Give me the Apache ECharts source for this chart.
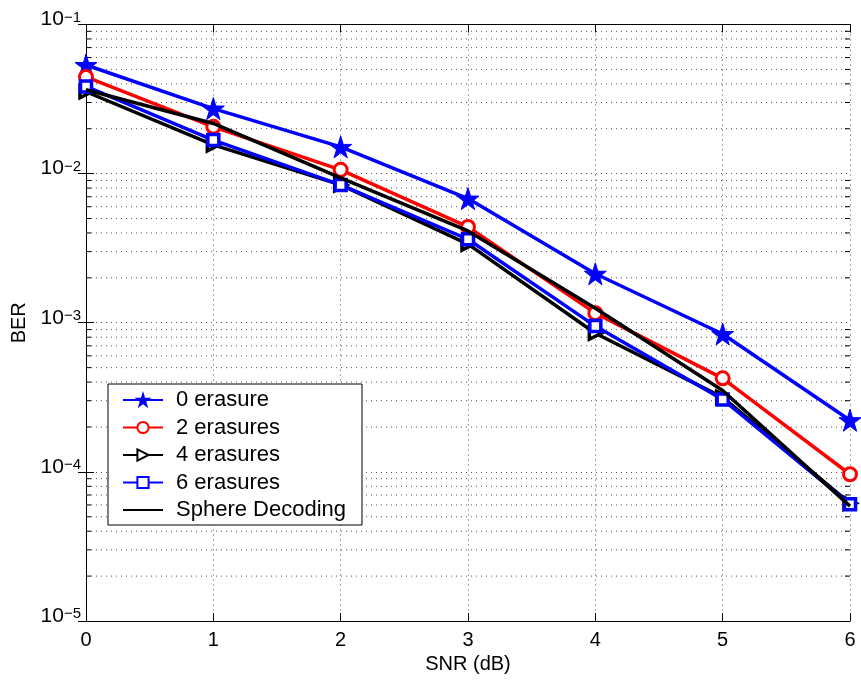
<!DOCTYPE html>
<html>
<head>
<meta charset="utf-8">
<script src="https://cdn.jsdelivr.net/npm/echarts@6/dist/echarts.min.js"></script>
<style>html,body{margin:0;padding:0;background:#fff;}#c{width:861px;height:681px;}</style>
</head>
<body>
<div id="c"></div>
<script>
const snr = [0, 1, 2, 3, 4, 5, 6];
const erasure0 = [0.0535, 0.0273, 0.0151, 0.0068, 0.00213, 0.00084, 0.000222];
const erasure2 = [0.0445, 0.0206, 0.0106, 0.00439, 0.00116, 0.000424, 0.0000964];
const erasure4 = [0.0354, 0.0156, 0.0084, 0.00337, 0.00085, 0.000316, 0.0000616];
const erasure6 = [0.0384, 0.0168, 0.0084, 0.00363, 0.00095, 0.000306, 0.0000607];
const sphere = [0.0365, 0.0217, 0.00937, 0.00413, 0.00125, 0.000351, 0.0000589];
const seriesNames = ['0 erasure', '2 erasures', '4 erasures', '6 erasures', 'Sphere Decoding'];
const decades = [1e-5, 1e-4, 1e-3, 1e-2];
const minorMultipliers = [2, 3, 4, 5, 6, 7, 8, 9];

const minorValues = [];
decades.forEach(d => minorMultipliers.forEach(m => minorValues.push([0, +(d * m).toPrecision(3)])));

const FONT = 'Liberation Sans, Arial, Helvetica, sans-serif';
const starPath = 'path://M50,0 L61,35 L98,35 L68,57 L79,91 L50,70 L21,91 L32,57 L2,35 L39,35 Z';
const triPath = 'path://M0,0 L10,5 L0,10 Z';

function pair(arr) { return snr.map((x, i) => [x, arr[i]]); }

const chart = echarts.init(document.getElementById('c'), null, {renderer: 'canvas'});
const option = {
  backgroundColor: '#fff',
  animation: false,
  textStyle: {fontFamily: FONT, color: '#000'},
  grid: {left: 86, right: 11, top: 18, bottom: 60, containLabel: false},
  legend: {
    data: [
      seriesNames[0], seriesNames[1], seriesNames[2], seriesNames[3],
      {name: seriesNames[4], itemStyle: {color: 'transparent', borderColor: 'transparent', borderWidth: 0, opacity: 0}}
    ],
    orient: 'vertical',
    left: 108, top: 384,
    backgroundColor: '#fff',
    borderColor: '#000', borderWidth: 1,
    padding: [5, 16, 4, 14],
    itemWidth: 40, itemHeight: 14, itemGap: 5.5,
    textStyle: {fontSize: 22, fontFamily: FONT, color: '#000', lineHeight: 14, padding: [0, 0, 0, 8]}
  },
  xAxis: [{
    type: 'value', min: 0, max: 6, interval: 1, position: 'bottom',
    name: 'SNR (dB)', nameLocation: 'middle', nameGap: 31,
    nameTextStyle: {fontSize: 20, fontFamily: FONT, color: '#000'},
    axisLine: {show: true, lineStyle: {color: '#000', width: 1}},
    axisTick: {show: true, inside: true, length: 8, lineStyle: {color: '#000'}},
    axisLabel: {fontSize: 20, fontFamily: FONT, color: '#000', margin: 9},
    splitLine: {show: true, lineStyle: {color: '#555', type: [1, 4], width: 1}}
  }, {
    type: 'value', min: 0, max: 6, interval: 1, position: 'top',
    axisLine: {show: true, lineStyle: {color: '#000', width: 1}},
    axisTick: {show: true, inside: true, length: 8, lineStyle: {color: '#000'}},
    axisLabel: {show: false}, splitLine: {show: false}
  }],
  yAxis: [{
    type: 'log', logBase: 10, min: 1e-5, max: 1e-1, interval: 1, position: 'left',
    name: 'BER', nameLocation: 'middle', nameGap: 55, nameRotate: 90,
    nameTextStyle: {fontSize: 20, fontFamily: FONT, color: '#000'},
    axisLine: {show: true, lineStyle: {color: '#000', width: 1}},
    axisTick: {show: true, inside: true, length: 8, lineStyle: {color: '#000'}},
    axisLabel: {
      margin: 5,
      formatter: v => '{b|10}{e|\u2212' + Math.abs(Math.round(Math.log10(v))) + '}',
      padding: [0, 0, 9, 0],
      rich: {
        b: {fontSize: 21, fontFamily: FONT, color: '#000', lineHeight: 20, padding: [9, 0, 0, 0], verticalAlign: 'bottom'},
        e: {fontSize: 15, fontFamily: FONT, color: '#000', lineHeight: 14, verticalAlign: 'top'}
      }
    },
    splitLine: {show: true, lineStyle: {color: '#555', type: [1, 4], width: 1}}
  }, {
    type: 'log', logBase: 10, min: 1e-5, max: 1e-1, interval: 1, position: 'right',
    axisLine: {show: true, lineStyle: {color: '#000', width: 1}},
    axisTick: {show: true, inside: true, length: 8, lineStyle: {color: '#000'}},
    axisLabel: {show: false}, splitLine: {show: false}
  }],
  series: [
    {
      type: 'custom', name: 'minorGrid', silent: true, z: 1, clip: false,
      xAxisIndex: 0, yAxisIndex: 0,
      data: minorValues,
      renderItem: function (params, api) {
        const v = api.value(1);
        const a = api.coord([0, v]);
        const b = api.coord([6, v]);
        return {type: 'group', children: [
          {type: 'line', shape: {x1: a[0], y1: a[1], x2: b[0], y2: b[1]}, style: {stroke: '#555', lineDash: [1, 4], lineWidth: 1}},
          {type: 'line', shape: {x1: a[0], y1: a[1], x2: a[0] + 5, y2: a[1]}, style: {stroke: '#000', lineWidth: 1}},
          {type: 'line', shape: {x1: b[0] - 5, y1: b[1], x2: b[0], y2: b[1]}, style: {stroke: '#000', lineWidth: 1}}
        ]};
      }
    },
    {
      name: seriesNames[0], type: 'line', data: pair(erasure0), z: 3,
      symbol: starPath, symbolSize: 22, showAllSymbol: true,
      lineStyle: {color: '#0000ff', width: 3.5},
      itemStyle: {color: '#0000ff', borderColor: '#0000ff', borderWidth: 1}
    },
    {
      name: seriesNames[1], type: 'line', data: pair(erasure2), z: 4,
      symbol: 'circle', symbolSize: 13,
      lineStyle: {color: '#ff0000', width: 3.5},
      itemStyle: {color: '#fff', borderColor: '#ff0000', borderWidth: 3}
    },
    {
      name: seriesNames[2], type: 'line', data: pair(erasure4), z: 5,
      symbol: triPath, symbolSize: 12,
      lineStyle: {color: '#000', width: 3.5},
      itemStyle: {color: '#fff', borderColor: '#000', borderWidth: 3.5}
    },
    {
      name: seriesNames[3], type: 'line', data: pair(erasure6), z: 6,
      symbol: 'rect', symbolSize: 11,
      lineStyle: {color: '#0000ff', width: 3.5},
      itemStyle: {color: '#fff', borderColor: '#0000ff', borderWidth: 3.5}
    },
    {
      name: seriesNames[4], type: 'line', data: pair(sphere), z: 7,
      symbol: 'none',
      lineStyle: {color: '#000', width: 3.5},
      itemStyle: {color: '#000'}
    }
  ]
};
chart.setOption(option);
</script>
</body>
</html>
